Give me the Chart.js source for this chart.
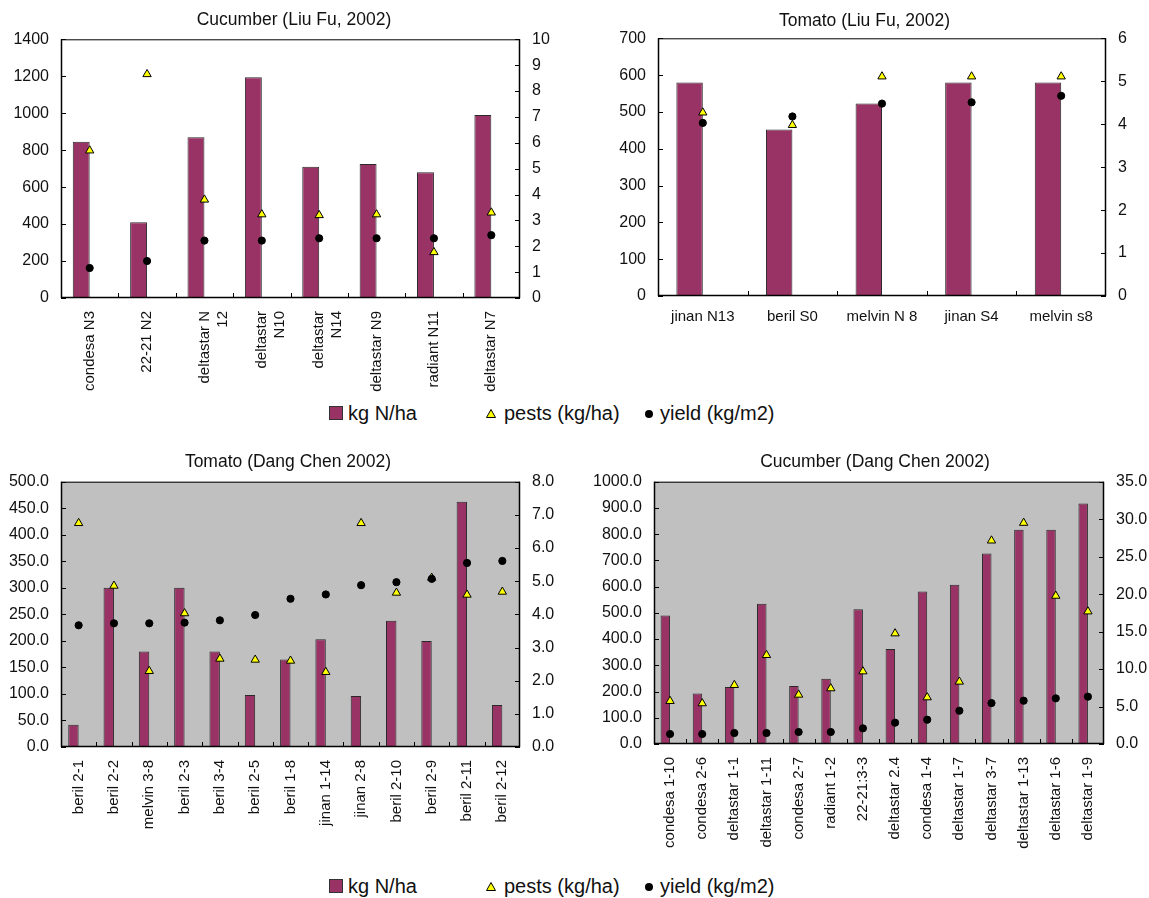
<!DOCTYPE html>
<html>
<head>
<meta charset="utf-8">
<title>Nitrogen, pests and yield by variety</title>
<script src="https://cdn.jsdelivr.net/npm/chart.js@4.4.1/dist/chart.umd.min.js"></script>
<style>
  html, body { margin: 0; padding: 0; background: #fff; overflow: hidden; }
  body { width: 1149px; height: 898px; position: relative; font-family: 'Liberation Sans', Arial, sans-serif; color: #111; }
  .box { position: absolute; }
  .legend { position: absolute; left: 0; width: 1149px; height: 26px; font-size: 20px; }
  .legend span { position: absolute; top: 0; line-height: 26px; white-space: nowrap; }
  .sw { position: absolute; }
</style>
</head>
<body>
<div class="box" style="left:0;top:0;width:588px;height:400px"><canvas id="c1"></canvas></div>
<div class="box" style="left:590px;top:0;width:549px;height:400px"><canvas id="c2"></canvas></div>
<div class="box" style="left:0;top:440px;width:576px;height:410px"><canvas id="c3"></canvas></div>
<div class="box" style="left:590px;top:440px;width:570px;height:410px"><canvas id="c4"></canvas></div>

<div class="legend" style="top:400px">
  <div class="sw" style="left:329px;top:6px;width:12px;height:12px;background:#993366;border:1px solid #333"></div>
  <span style="left:348px">kg N/ha</span>
  <svg class="sw" style="left:486px;top:9px" width="10" height="9"><polygon points="5,0.5 9.5,8.5 0.5,8.5" fill="#ffff00" stroke="#000" stroke-width="1"/></svg>
  <span style="left:504px">pests (kg/ha)</span>
  <div class="sw" style="left:645px;top:10px;width:8px;height:8px;border-radius:50%;background:#000"></div>
  <span style="left:660px">yield (kg/m2)</span>
</div>
<div class="legend" style="top:873px">
  <div class="sw" style="left:329px;top:6px;width:12px;height:12px;background:#993366;border:1px solid #333"></div>
  <span style="left:348px">kg N/ha</span>
  <svg class="sw" style="left:486px;top:9px" width="10" height="9"><polygon points="5,0.5 9.5,8.5 0.5,8.5" fill="#ffff00" stroke="#000" stroke-width="1"/></svg>
  <span style="left:504px">pests (kg/ha)</span>
  <div class="sw" style="left:645px;top:10px;width:8px;height:8px;border-radius:50%;background:#000"></div>
  <span style="left:660px">yield (kg/m2)</span>
</div>

<script>
// ---- Cucumber (Liu Fu, 2002) ----
const cucLiuCategories = ['condesa N3', '22-21 N2', ['deltastar N', '12'], ['deltastar', 'N10'], ['deltastar', 'N14'], 'deltastar N9', 'radiant N11', 'deltastar N7'];
const cucLiuNitrogen = [845, 410, 870, 1195, 710, 725, 680, 990];
const cucLiuPests = [5.7, 8.65, 3.8, 3.23, 3.2, 3.23, 1.77, 3.3];
const cucLiuYield = [1.16, 1.43, 2.22, 2.22, 2.31, 2.31, 2.31, 2.43];

// ---- Tomato (Liu Fu, 2002) ----
const tomLiuCategories = ['jinan N13', 'beril S0', 'melvin N 8', 'jinan S4', 'melvin s8'];
const tomLiuNitrogen = [580, 452, 523, 580, 580];
const tomLiuPests = [4.27, 3.98, 5.11, 5.11, 5.11];
const tomLiuYield = [4.03, 4.18, 4.48, 4.51, 4.66];

// ---- Tomato (Dang Chen 2002) ----
const tomDangCategories = ['beril 2-1', 'beril 2-2', 'melvin 3-8', 'beril 2-3', 'beril 3-4', 'beril 2-5', 'beril 1-8', 'jinan 1-14', 'jinan 2-8', 'beril 2-10', 'beril 2-9', 'beril 2-11', 'beril 2-12'];
const tomDangNitrogen = [42, 300, 180, 300, 180, 98, 165, 203, 96, 238, 200, 462, 79];
const tomDangPests = [6.75, 4.86, 2.29, 4.03, 2.66, 2.63, 2.6, 2.26, 6.75, 4.65, 5.1, 4.59, 4.68];
const tomDangYield = [3.67, 3.73, 3.73, 3.75, 3.82, 3.98, 4.47, 4.6, 4.88, 4.97, 5.07, 5.55, 5.61];

// ---- Cucumber (Dang Chen 2002) ----
const cucDangCategories = ['condesa 1-10', 'condesa 2-6', 'deltastar 1-1', 'deltastar 1-11', 'condesa 2-7', 'radiant 1-2', '22-21:3-3', 'deltastar 2.4', 'condesa 1-4', 'deltastar 1-7', 'deltastar 3-7', 'deltastar 1-13', 'deltastar 1-6', 'deltastar 1-9'];
const cucDangNitrogen = [490, 193, 217, 535, 221, 249, 514, 362, 581, 607, 726, 817, 817, 917];
const cucDangPests = [5.73, 5.42, 7.86, 11.86, 6.57, 7.42, 9.68, 14.75, 6.22, 8.31, 27.14, 29.5, 19.77, 17.68];
const cucDangYield = [1.33, 1.33, 1.47, 1.47, 1.6, 1.6, 2.09, 2.84, 3.24, 4.44, 5.46, 5.78, 6.09, 6.31];

const FONT = "'Liberation Sans', Arial, sans-serif";
const INK = '#111';
const PLUM = '#993366';

// Plot frame, optional grey plot background and inward tick marks.
const framePlugin = {
  id: 'frame',
  beforeDraw(chart, args, opts) {
    if (!opts.fill) return;
    const { ctx, chartArea: a } = chart;
    ctx.save();
    ctx.fillStyle = opts.fill;
    ctx.fillRect(a.left, a.top, a.width, a.height);
    ctx.restore();
  },
  afterDraw(chart) {
    const { ctx, chartArea: a, scales } = chart;
    const len = 5;
    ctx.save();
    ctx.strokeStyle = '#000';
    ctx.lineWidth = 1;
    ctx.strokeRect(a.left + 0.5, a.top + 0.5, a.width - 1, a.height - 1);
    ctx.lineWidth = 1.5;
    ctx.beginPath();
    ctx.moveTo(a.left + 0.5, a.top); ctx.lineTo(a.left + 0.5, a.bottom);
    ctx.moveTo(a.left, a.bottom - 0.5); ctx.lineTo(a.right, a.bottom - 0.5);
    ctx.moveTo(a.right - 0.5, a.top); ctx.lineTo(a.right - 0.5, a.bottom);
    ctx.stroke();
    ctx.lineWidth = 1;
    ctx.beginPath();
    scales.y.ticks.forEach((t, i) => {
      const y = Math.round(scales.y.getPixelForTick(i)) + 0.5;
      ctx.moveTo(a.left, y); ctx.lineTo(a.left + len, y);
    });
    scales.y1.ticks.forEach((t, i) => {
      const y = Math.round(scales.y1.getPixelForTick(i)) + 0.5;
      ctx.moveTo(a.right - len, y); ctx.lineTo(a.right, y);
    });
    const n = scales.x.ticks.length;
    for (let i = 1; i < n; i++) {
      const x = Math.round((scales.x.getPixelForTick(i - 1) + scales.x.getPixelForTick(i)) / 2) + 0.5;
      ctx.moveTo(x, a.bottom); ctx.lineTo(x, a.bottom - len);
    }
    ctx.stroke();
    ctx.restore();
  }
};

function buildChart(id, spec) {
  const fmt = spec.decimals ? (v) => Number(v).toFixed(1) : (v) => String(v);
  return new Chart(document.getElementById(id), {
    type: 'bar',
    data: {
      labels: spec.categories,
      datasets: [
        {
          type: 'line', label: 'yield (kg/m2)', data: spec.yieldVals, yAxisID: 'y1',
          showLine: false, pointStyle: 'circle', pointRadius: 3.6, pointHoverRadius: 3.6,
          pointBackgroundColor: '#000', pointBorderColor: '#000', pointBorderWidth: 1, order: 1
        },
        {
          type: 'line', label: 'pests (kg/ha)', data: spec.pests, yAxisID: 'y1',
          showLine: false, pointStyle: 'triangle', pointRadius: 4.8, pointHoverRadius: 4.8,
          pointBackgroundColor: '#ffff00', pointBorderColor: '#000', pointBorderWidth: 1, order: 2
        },
        {
          label: 'kg N/ha', data: spec.nitrogen, yAxisID: 'y',
          backgroundColor: PLUM, borderColor: '#2a2a2a', borderWidth: 1, borderSkipped: 'bottom',
          categoryPercentage: 0.59, barPercentage: 1, order: 3
        },
        {
          // empty companion column so each bar sits just left of its category centre
          label: 'spacer', data: spec.nitrogen.map(() => null), yAxisID: 'y',
          backgroundColor: 'rgba(0,0,0,0)', borderWidth: 0,
          categoryPercentage: 0.59, barPercentage: 1, order: 4
        }
      ]
    },
    options: {
      responsive: true,
      maintainAspectRatio: false,
      animation: false,
      events: [],
      layout: { padding: 0 },
      plugins: {
        legend: { display: false },
        tooltip: { enabled: false },
        title: {
          display: true, text: spec.title, color: INK,
          font: { family: FONT, size: 17.5, weight: 'normal', lineHeight: 1.2 },
          padding: { top: spec.titleTop, bottom: spec.titleBottom }
        },
        frame: { fill: spec.fill || null }
      },
      scales: {
        x: {
          grid: { display: false, drawTicks: false },
          border: { display: false },
          ticks: {
            color: INK, font: { family: FONT, size: 15 }, autoSkip: false,
            minRotation: spec.rotate ? 90 : 0, maxRotation: spec.rotate ? 90 : 0,
            padding: spec.xPad
          },
          afterFit(s) { s.height = spec.xHeight; }
        },
        y: {
          position: 'left', min: 0, max: spec.yMax,
          grid: { display: false, drawTicks: false },
          border: { display: false },
          ticks: { stepSize: spec.yStep, color: INK, font: { family: FONT, size: 16 }, padding: 12, callback: fmt },
          afterFit(s) { s.width = spec.leftW; }
        },
        y1: {
          position: 'right', min: 0, max: spec.y1Max,
          grid: { display: false, drawTicks: false },
          border: { display: false },
          ticks: { stepSize: spec.y1Step, color: INK, font: { family: FONT, size: 16 }, padding: 12, callback: fmt },
          afterFit(s) { s.width = spec.rightW; }
        }
      }
    },
    plugins: [framePlugin]
  });
}

buildChart('c1', {
  title: 'Cucumber (Liu Fu, 2002)', categories: cucLiuCategories,
  nitrogen: cucLiuNitrogen, pests: cucLiuPests, yieldVals: cucLiuYield,
  yMax: 1400, yStep: 200, y1Max: 10, y1Step: 1, decimals: false,
  rotate: true, xPad: 13, xHeight: 102, leftW: 61, rightW: 68,
  titleTop: 9.5, titleBottom: 8.8
});

buildChart('c2', {
  title: 'Tomato (Liu Fu, 2002)', categories: tomLiuCategories,
  nitrogen: tomLiuNitrogen, pests: tomLiuPests, yieldVals: tomLiuYield,
  yMax: 700, yStep: 100, y1Max: 6, y1Step: 1, decimals: false,
  rotate: false, xPad: 12, xHeight: 104, leftW: 68, rightW: 33,
  titleTop: 10.3, titleBottom: 7
});

buildChart('c3', {
  title: 'Tomato (Dang Chen 2002)', categories: tomDangCategories,
  nitrogen: tomDangNitrogen, pests: tomDangPests, yieldVals: tomDangYield,
  yMax: 500, yStep: 50, y1Max: 8, y1Step: 1, decimals: true, fill: '#c0c0c0',
  rotate: true, xPad: 13, xHeight: 103, leftW: 61, rightW: 56,
  titleTop: 12, titleBottom: 8.7
});

buildChart('c4', {
  title: 'Cucumber (Dang Chen 2002)', categories: cucDangCategories,
  nitrogen: cucDangNitrogen, pests: cucDangPests, yieldVals: cucDangYield,
  yMax: 1000, yStep: 100, y1Max: 35, y1Step: 5, decimals: true, fill: '#c0c0c0',
  rotate: true, xPad: 13, xHeight: 106, leftW: 64, rightW: 56,
  titleTop: 12, titleBottom: 8.7
});
</script>
</body>
</html>
